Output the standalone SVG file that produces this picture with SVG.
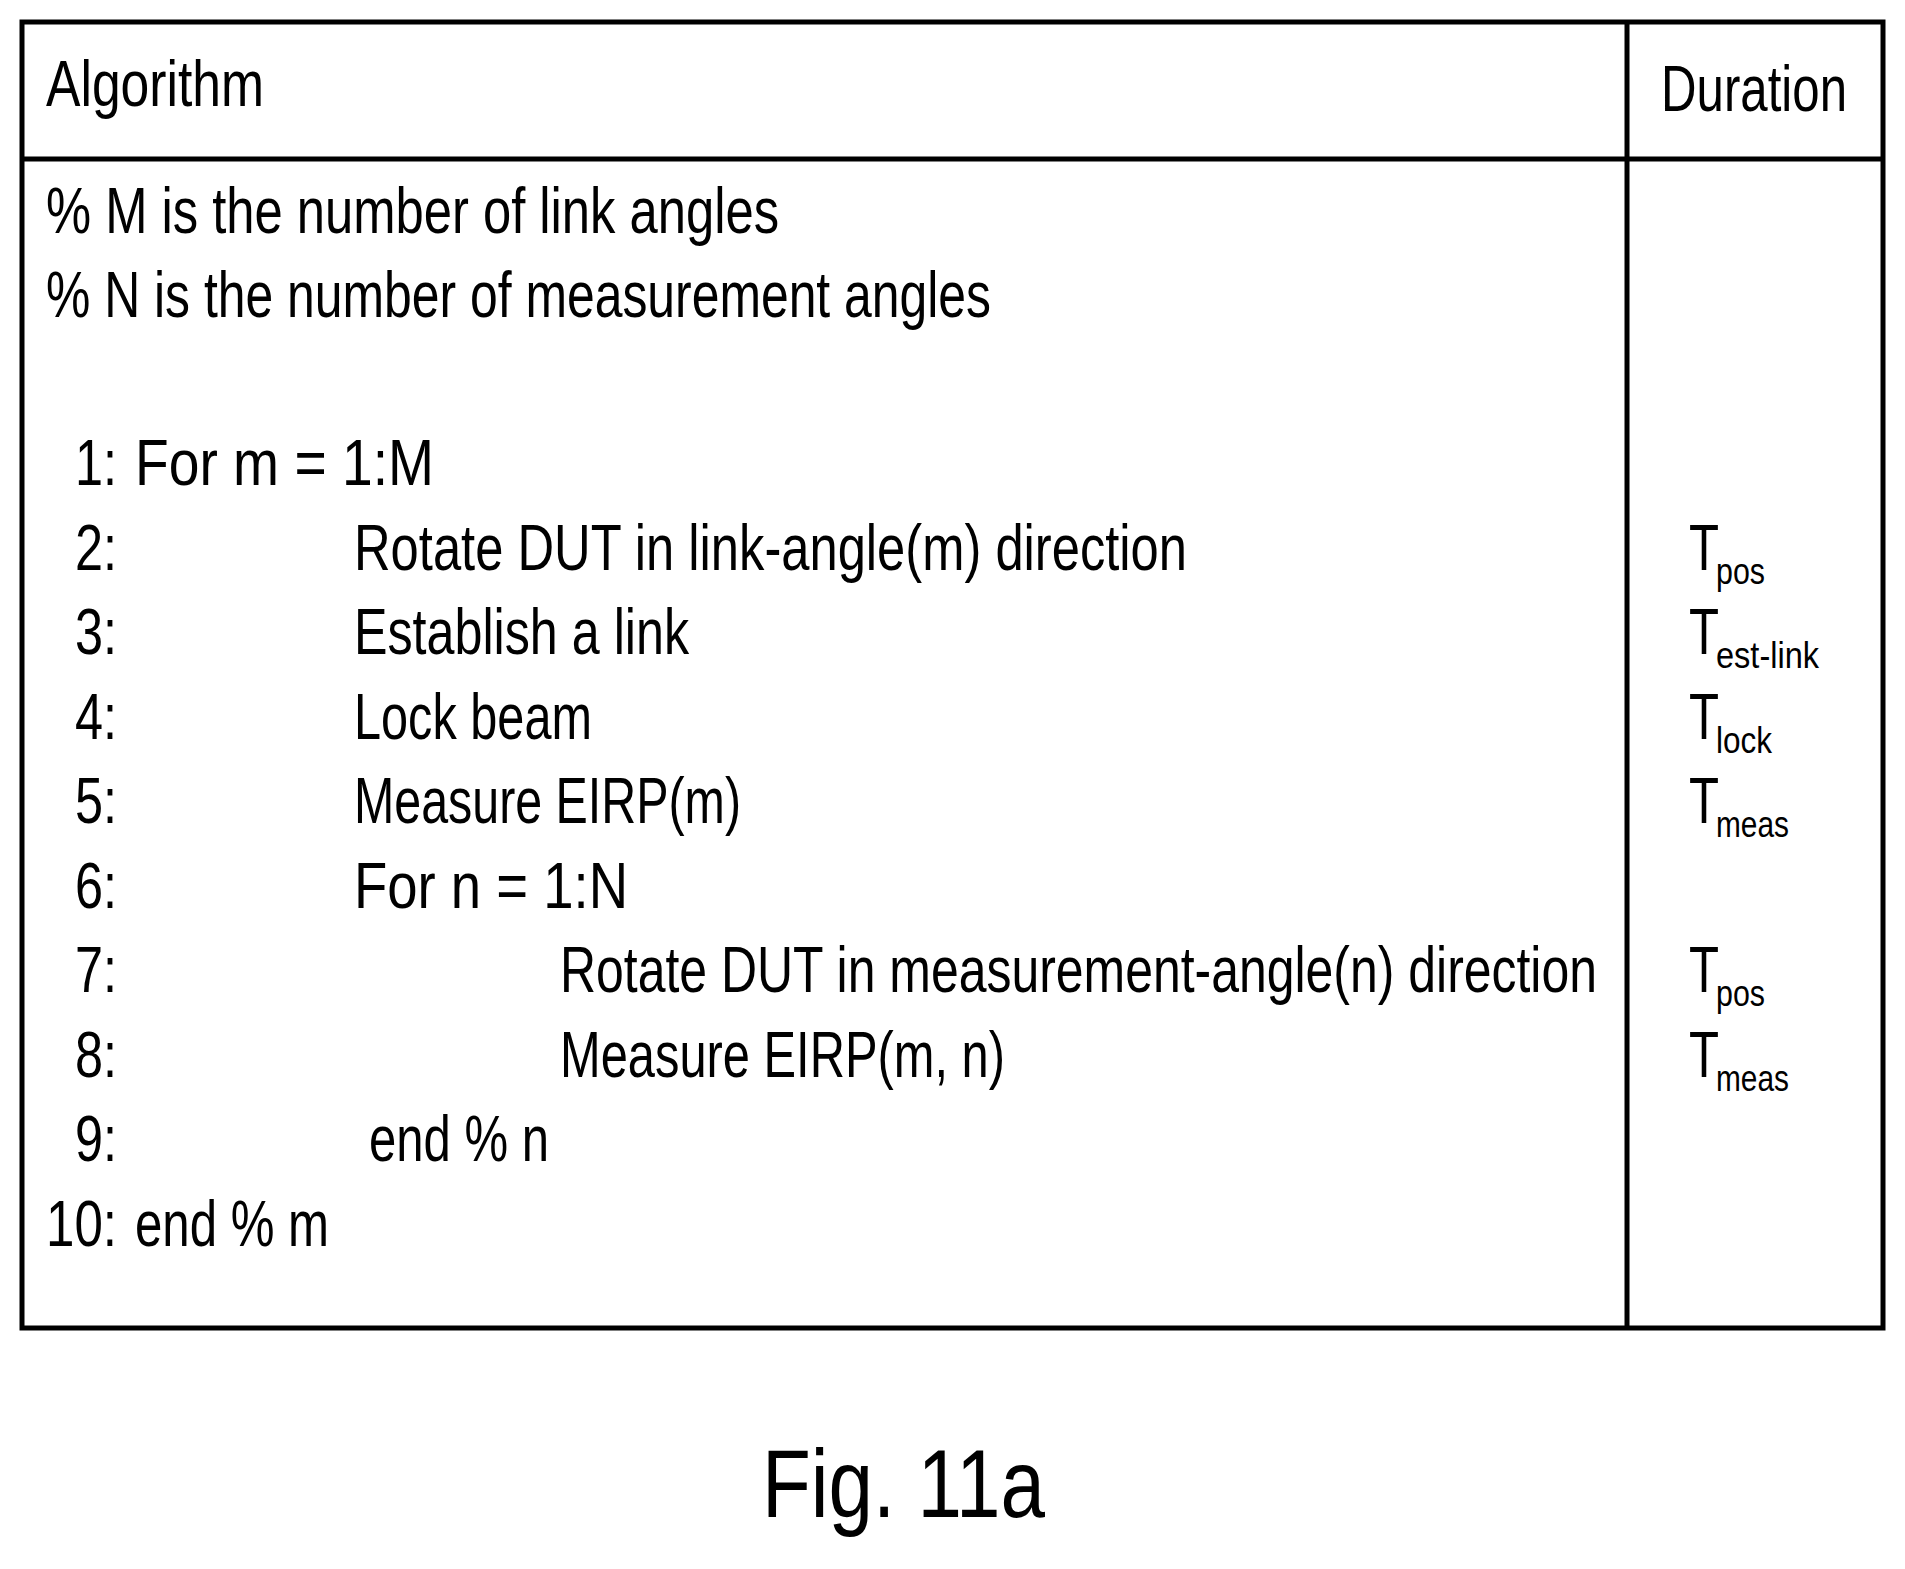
<svg xmlns="http://www.w3.org/2000/svg" width="1905" height="1569" viewBox="0 0 1905 1569">
<style>
text{font-family:"Liberation Sans Narrow","Liberation Sans",Arial,sans-serif;fill:#000;font-size:64px}
.n{text-anchor:end}
.s{font-size:36px}
.fig{font-size:96px}
.ln{stroke:#000;stroke-width:5;fill:none}
</style>
<rect width="1905" height="1569" fill="#fff"/>
<g id="table">
<rect class="ln" x="22" y="22" width="1861" height="1306"/>
<line class="ln" x1="22" y1="159" x2="1883" y2="159"/>
<line class="ln" x1="1627" y1="22" x2="1627" y2="1328"/>
</g>
<g id="header">
<text x="46" y="106" textLength="218" lengthAdjust="spacingAndGlyphs">Algorithm</text>
<text x="1661" y="111" textLength="186" lengthAdjust="spacingAndGlyphs">Duration</text>
</g>
<g id="algorithm">
<text x="46" y="233" textLength="733" lengthAdjust="spacingAndGlyphs">% M is the number of link angles</text>
<text x="46" y="317" textLength="945" lengthAdjust="spacingAndGlyphs">% N is the number of measurement angles</text>
<text x="75" y="485" textLength="42" lengthAdjust="spacingAndGlyphs">1:</text><text x="135" y="485" textLength="299" lengthAdjust="spacingAndGlyphs">For m = 1:M</text>
<text x="75" y="570" textLength="42" lengthAdjust="spacingAndGlyphs">2:</text><text x="354" y="570" textLength="833" lengthAdjust="spacingAndGlyphs">Rotate DUT in link-angle(m) direction</text>
<text x="75" y="654" textLength="42" lengthAdjust="spacingAndGlyphs">3:</text><text x="354" y="654" textLength="335" lengthAdjust="spacingAndGlyphs">Establish a link</text>
<text x="75" y="739" textLength="42" lengthAdjust="spacingAndGlyphs">4:</text><text x="354" y="739" textLength="238" lengthAdjust="spacingAndGlyphs">Lock beam</text>
<text x="75" y="823" textLength="42" lengthAdjust="spacingAndGlyphs">5:</text><text x="354" y="823" textLength="387" lengthAdjust="spacingAndGlyphs">Measure EIRP(m)</text>
<text x="75" y="908" textLength="42" lengthAdjust="spacingAndGlyphs">6:</text><text x="354" y="908" textLength="274" lengthAdjust="spacingAndGlyphs">For n = 1:N</text>
<text x="75" y="992" textLength="42" lengthAdjust="spacingAndGlyphs">7:</text><text x="560" y="992" textLength="1037" lengthAdjust="spacingAndGlyphs">Rotate DUT in measurement-angle(n) direction</text>
<text x="75" y="1077" textLength="42" lengthAdjust="spacingAndGlyphs">8:</text><text x="560" y="1077" textLength="445" lengthAdjust="spacingAndGlyphs">Measure EIRP(m, n)</text>
<text x="75" y="1161" textLength="42" lengthAdjust="spacingAndGlyphs">9:</text><text x="369" y="1161" textLength="180" lengthAdjust="spacingAndGlyphs">end % n</text>
<text x="46" y="1246" textLength="71" lengthAdjust="spacingAndGlyphs">10:</text><text x="135" y="1246" textLength="194" lengthAdjust="spacingAndGlyphs">end % m</text>
</g>
<g id="duration">
<text x="1689" y="570" textLength="30" lengthAdjust="spacingAndGlyphs">T</text><text class="s" x="1716" y="584" textLength="49" lengthAdjust="spacingAndGlyphs">pos</text>
<text x="1689" y="654" textLength="30" lengthAdjust="spacingAndGlyphs">T</text><text class="s" x="1716" y="668" textLength="103" lengthAdjust="spacingAndGlyphs">est-link</text>
<text x="1689" y="739" textLength="30" lengthAdjust="spacingAndGlyphs">T</text><text class="s" x="1716" y="753" textLength="56" lengthAdjust="spacingAndGlyphs">lock</text>
<text x="1689" y="823" textLength="30" lengthAdjust="spacingAndGlyphs">T</text><text class="s" x="1716" y="837" textLength="73" lengthAdjust="spacingAndGlyphs">meas</text>
<text x="1689" y="992" textLength="30" lengthAdjust="spacingAndGlyphs">T</text><text class="s" x="1716" y="1006" textLength="49" lengthAdjust="spacingAndGlyphs">pos</text>
<text x="1689" y="1077" textLength="30" lengthAdjust="spacingAndGlyphs">T</text><text class="s" x="1716" y="1091" textLength="73" lengthAdjust="spacingAndGlyphs">meas</text>
</g>
<text class="fig" x="762" y="1517" textLength="283" lengthAdjust="spacingAndGlyphs">Fig. 11a</text>
</svg>
